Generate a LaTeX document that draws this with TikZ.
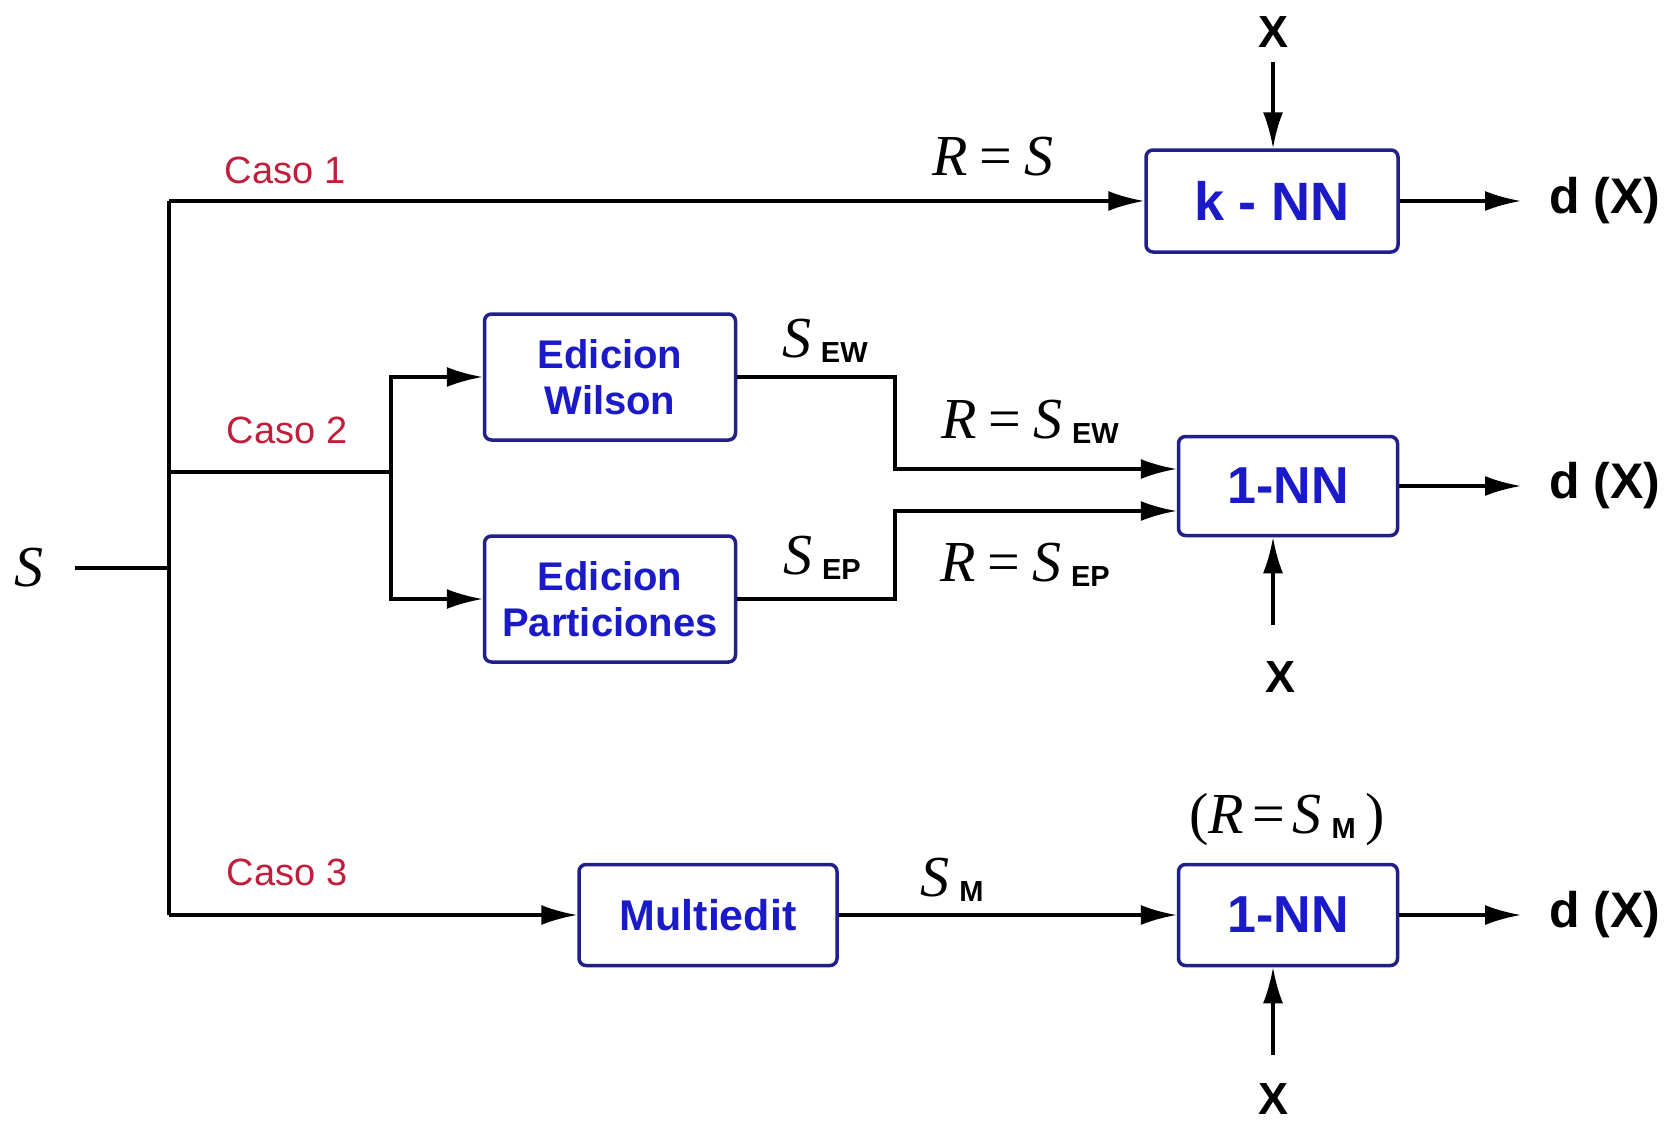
\documentclass[tikz,border=0pt]{standalone}
\usepackage{fontspec}
\setmainfont{Liberation Serif}
\setsansfont{Liberation Sans}
\usetikzlibrary{arrows.meta}
\definecolor{boxblue}{HTML}{1A1AC8}
\definecolor{boxedge}{HTML}{202088}
\definecolor{casored}{HTML}{C01E3A}
\newcommand\mysub[1]{\,\raisebox{-5pt}{\fontsize{29}{29}\selectfont\sffamily\bfseries #1}}
\newcommand\myeq{\hspace{12pt}=\hspace{12pt}}
\begin{document}
\begin{tikzpicture}[x=1pt,y=-1pt,
  wire/.style={line width=3.2pt, black},
  arr/.style={wire, -{Latex[length=36pt,width=20pt]}},
  blk/.style={draw=boxedge, line width=3.5pt, rounded corners=7pt, fill=white, text=boxblue, align=center, inner sep=0pt},
  casolbl/.style={text=casored, font=\sffamily\fontsize{38}{40}\selectfont, inner sep=0pt},
  mathlbl/.style={font=\rmfamily\fontsize{58}{60}\selectfont, inner sep=0pt},
  xlbl/.style={font=\sffamily\bfseries\fontsize{45}{48}\selectfont, inner sep=0pt},
  dlbl/.style={font=\sffamily\bfseries\fontsize{50}{52}\selectfont, anchor=west, inner sep=0pt, inner xsep=28pt, outer sep=0pt},
]
\useasboundingbox (0,0) rectangle (1680,1128);

% boxes
\node[blk, minimum width=252pt, minimum height=102pt, font=\sffamily\bfseries\fontsize{54}{56}\selectfont] (knn) at (1272,201) {k - NN};
\node[blk, minimum width=251pt, minimum height=126pt, font=\sffamily\bfseries\fontsize{40}{46}\selectfont] (wil) at (610,377) {Edicion\\Wilson};
\node[blk, minimum width=251pt, minimum height=126pt, font=\sffamily\bfseries\fontsize{40}{46}\selectfont] (par) at (610,599) {Edicion\\Particiones};
\node[blk, minimum width=258pt, minimum height=101pt, font=\sffamily\bfseries\fontsize{43}{46}\selectfont] (mul) at (708,915) {Multiedit};
\node[blk, minimum width=219pt, minimum height=99pt, font=\sffamily\bfseries\fontsize{52}{54}\selectfont] (m1) at (1288,486) {1-NN};
\node[blk, minimum width=219pt, minimum height=101pt, font=\sffamily\bfseries\fontsize{52}{54}\selectfont] (m2) at (1288,915) {1-NN};

% labels
\node[mathlbl] (sl) at (29,568) {\textit{S}};
\node[casolbl] (c1) at (285,170) {Caso 1};
\node[casolbl] (c2) at (287,430) {Caso 2};
\node[casolbl] (c3) at (287,872) {Caso 3};
\node[mathlbl] (lrs) at (993,157) {\textit{R}\myeq\textit{S}};
\node[mathlbl] (lsew) at (825,341) {\textit{S}\mysub{EW}};
\node[mathlbl] (lrew) at (1030,422) {\textit{R}\myeq\textit{S}\mysub{EW}};
\node[mathlbl] (lsep) at (822,558) {\textit{S}\mysub{EP}};
\node[mathlbl] (lrep) at (1025,565) {\textit{R}\myeq\textit{S}\mysub{EP}};
\node[mathlbl] (lsm) at (952,880) {\textit{S}\mysub{M}};
\node[mathlbl] (lrm) at (1287,820) {(\textit{R}\hspace{8pt}=\hspace{8pt}\textit{S}\mysub{M}\,)};

\node[xlbl] (x1) at (1273,32) {X};
\node[xlbl] (x2) at (1280,677) {X};
\node[xlbl] (x3) at (1273,1099) {X};
\node[dlbl] (d1) at (1521,201) {d (X)};
\node[dlbl] (d2) at (1521,486) {d (X)};
\node[dlbl] (d3) at (1521,915) {d (X)};

% coordinates
\coordinate (s0) at (75,568);
\coordinate (j0) at (169,568);
\coordinate (t1) at (169,201);
\coordinate (t2) at (169,472);
\coordinate (t3) at (169,915);
\coordinate (b2) at (391,472);
\coordinate (w1) at (895,377);
\coordinate (p1) at (895,599);
\coordinate (x1a) at (1273,62);
\coordinate (x2a) at (1273,625);
\coordinate (x3a) at (1273,1055);

% connectors
\draw[wire] (s0) -- (j0);
\draw[wire] (t1) -- (t3);
\draw[arr] (t1) -- (knn.west);
\draw[wire] (t2) -- (b2);
\draw[arr] (b2) |- (wil.west);
\draw[arr] (b2) |- (par.west);
\draw[arr] (t3) -- (mul.west);
\draw[arr] (wil.east) -- (w1) |- ([yshift=17pt]m1.west);
\draw[arr] (par.east) -- (p1) |- ([yshift=-25pt]m1.west);
\draw[arr] (mul.east) -- (m2.west);
\draw[arr] (knn.east) -- (d1.west);
\draw[arr] (m1.east) -- (d2.west);
\draw[arr] (m2.east) -- (d3.west);
\draw[arr] (x1a) -- (x1a |- knn.north);
\draw[arr] (x2a) -- (x2a |- m1.south);
\draw[arr] (x3a) -- (x3a |- m2.south);
\end{tikzpicture}
\end{document}
